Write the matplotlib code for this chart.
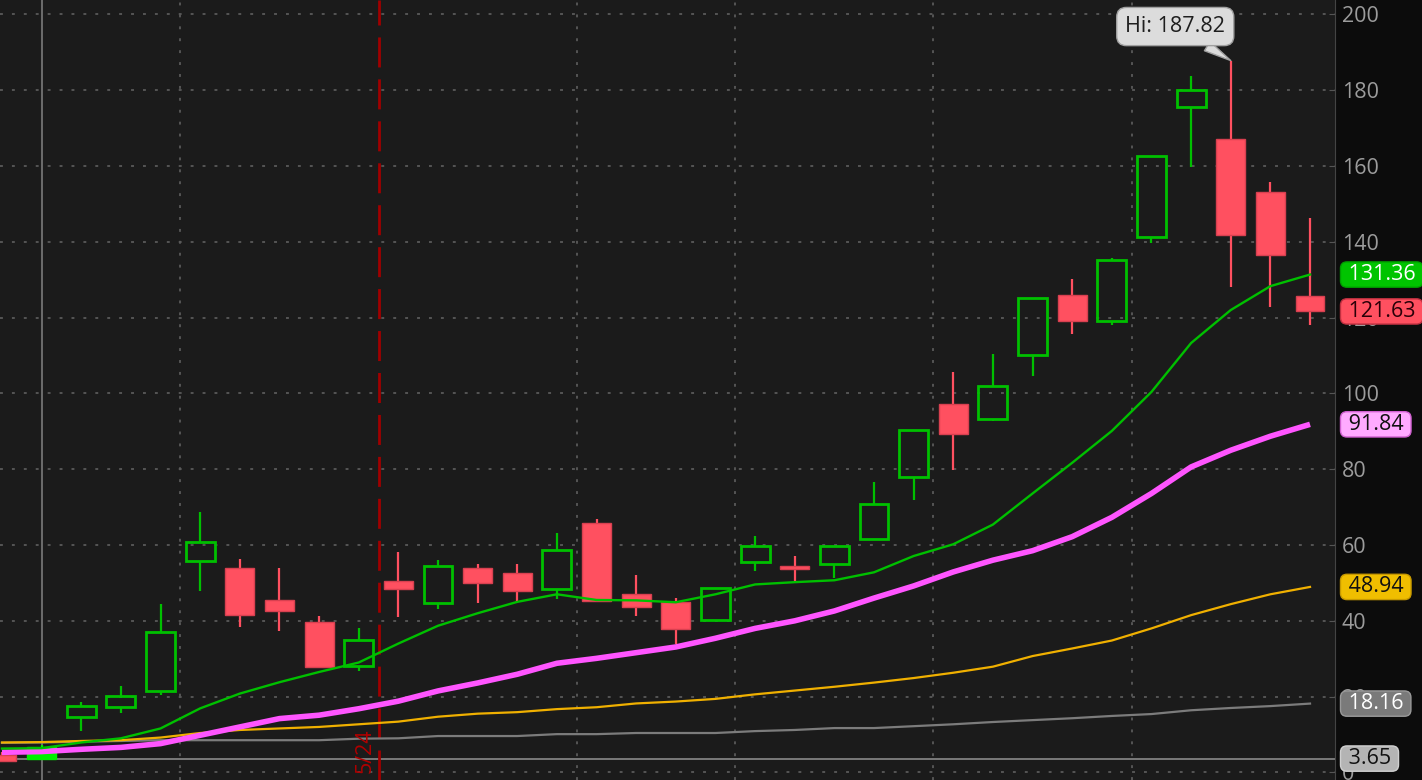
import matplotlib
matplotlib.use('Agg')
import matplotlib.pyplot as plt
import numpy as np

plt.rcParams['font.family'] = ['Open Sans', 'DejaVu Sans']

# daily candles (oldest first)
opens  = [4.6, 3.5, 14.6, 17.3, 21.5, 55.8, 54.0, 45.6, 39.8, 28.0,
          50.4, 44.7, 54.0, 52.5, 48.4, 65.7, 47.1, 45.0, 40.1, 55.4,
          54.5, 54.9, 61.6, 78.0, 97.3, 93.3, 110.2, 125.9, 119.2, 141.3,
          175.6, 167.0, 153.2, 125.8]
highs  = [5.5, 7.3, 18.7, 22.9, 44.5, 68.8, 56.2, 54.0, 41.4, 38.2,
          58.2, 56.0, 55.1, 55.1, 63.1, 66.8, 52.0, 46.1, 48.6, 62.4,
          57.2, 59.7, 76.7, 90.3, 105.7, 110.4, 125.1, 130.2, 135.8, 162.6,
          183.7, 187.82, 155.8, 146.3]
lows   = [2.8, 3.4, 10.9, 15.6, 20.4, 47.8, 38.3, 37.3, 27.8, 26.7,
          40.9, 43.2, 44.6, 45.0, 45.7, 45.2, 41.4, 34.0, 40.1, 53.1,
          50.5, 51.4, 61.6, 72.0, 79.9, 92.7, 104.7, 115.8, 118.0, 139.6,
          159.8, 128.1, 122.8, 118.0]
closes = [3.0, 6.8, 17.5, 20.1, 37.0, 60.8, 41.5, 42.6, 27.8, 34.9,
          48.3, 54.4, 49.9, 47.8, 58.7, 45.2, 43.6, 37.8, 48.6, 59.7,
          53.6, 59.7, 70.8, 90.3, 89.4, 101.9, 125.1, 119.0, 135.2, 162.6,
          180.0, 141.8, 136.5, 121.63]

# moving averages
ma_green = [6.3, 6.4, 7.9, 9.0, 11.6, 16.9, 20.8, 23.8, 26.5, 29.0,
            34.0, 38.7, 42.0, 45.0, 47.0, 45.5, 45.4, 44.9, 47.0, 49.6,
            50.2, 50.7, 52.8, 57.1, 60.2, 65.4, 73.6, 81.7, 90.1, 100.4,
            113.3, 122.0, 128.3, 131.36]
ma_pink = [5.3, 5.5, 6.1, 6.6, 7.6, 9.8, 12.0, 14.2, 15.1, 16.8,
           18.8, 21.5, 23.6, 25.9, 28.8, 30.1, 31.6, 33.1, 35.4, 38.0,
           40.0, 42.6, 46.0, 49.2, 52.9, 56.0, 58.5, 62.2, 67.3, 73.6,
           80.6, 85.0, 88.7, 91.84]
ma_gold = [7.9, 8.0, 8.3, 8.5, 9.2, 10.4, 11.2, 11.6, 12.0, 12.7,
           13.4, 14.7, 15.5, 15.9, 16.7, 17.2, 18.2, 18.7, 19.4, 20.6,
           21.6, 22.6, 23.7, 24.9, 26.3, 27.9, 30.7, 32.7, 34.8, 38.0,
           41.5, 44.4, 47.0, 48.94]
ma_gray = [7.8, 7.9, 8.1, 8.3, 8.5, 8.5, 8.5, 8.5, 8.5, 8.9,
           9.0, 9.6, 9.6, 9.6, 10.1, 10.1, 10.4, 10.4, 10.4, 10.9,
           11.2, 11.7, 11.7, 12.2, 12.7, 13.3, 13.8, 14.3, 14.9, 15.4,
           16.4, 17.0, 17.5, 18.16]

week_breaks = [4.5, 14.5, 18.5, 23.5, 28.5]
month_break = 9.5
month_label = '5/24'
cursor_idx = 1
last_price_line = 3.65
hi_value = 187.82
hi_idx = 31

tag_values = [131.36, 121.63, 91.84, 48.94, 18.16, 3.65]
tag_faces = ['#00c400', '#ff5060', '#ffaaff', '#f0be00', '#7a7a7a', '#b4b4b4']
tag_edges = ['#00a000', '#c03040', '#d060d0', '#c89a00', '#9a9a9a', '#d0d0d0']
tag_texts = ['#ffffff', '#2a0008', '#111111', '#111111', '#ffffff', '#111111']

BG = '#1b1b1b'
UP = '#00c000'
DOWN = '#ff5060'

fig = plt.figure(figsize=(14.22, 7.80), dpi=100, facecolor='#0c0c0c')
ax = fig.add_axes([0, 0, 1335 / 1422, 1])
ax.set_facecolor(BG)

n = len(opens)
x = np.arange(n)
o = np.array(opens); c = np.array(closes)
h = np.array(highs); l = np.array(lows)
top = np.maximum(o, c); bot = np.minimum(o, c)
up = c >= o
w = 0.73

# grid
for v in range(0, 201, 20):
    ax.axhline(v, color='#5a5a5a', lw=1.3, ls=(0, (1.6, 5)), zorder=0)
for xb in week_breaks:
    ax.axvline(xb, color='#5a5a5a', lw=1.3, ls=(0, (1.6, 5)), zorder=0)

ax.axvline(cursor_idx, color='#7a7a7a', lw=1.2, zorder=1)
ax.axhline(last_price_line, color='#8a8a8a', lw=1.2, zorder=1)
ax.axvline(month_break, color='#a00000', lw=2, ls=(0, (10.8, 4.3)), zorder=1)
ax.text(month_break - 0.33, 5.6, month_label, rotation=90, color='#b00000',
        fontsize=15.5, ha='center', va='center', zorder=6)

# candles
for i in range(n):
    if i == cursor_idx:
        ax.bar(x[i], top[i] - bot[i], bottom=bot[i], width=w, color='#00ee00',
               edgecolor='#00ee00', lw=1, zorder=3)
        ax.vlines(x[i], bot[i], h[i], color='#00ee00', lw=1.6, zorder=3)
    elif up[i]:
        ax.bar(x[i], top[i] - bot[i], bottom=bot[i], width=w, fill=False,
               edgecolor=UP, lw=2, zorder=3)
        ax.vlines(x[i], top[i], h[i], color=UP, lw=1.6, zorder=3)
        ax.vlines(x[i], l[i], bot[i], color=UP, lw=1.6, zorder=3)
    else:
        ax.vlines(x[i], l[i], h[i], color=DOWN, lw=1.6, zorder=3)
        ax.bar(x[i], top[i] - bot[i], bottom=bot[i], width=w, color=DOWN,
               edgecolor='#d84050', lw=1, zorder=3)

# moving averages
ax.plot(x, ma_gray, color='#7c7c7c', lw=1.6, zorder=4)
ax.plot(x, ma_gold, color='#f0b000', lw=1.6, zorder=4)
ax.plot(x, ma_pink, color='#ff55ff', lw=4, zorder=5, solid_capstyle='butt')
ax.plot(x, ma_green, color='#00c000', lw=1.7, zorder=5)

# high callout
ax.annotate(f'Hi: {hi_value:.2f}', xy=(hi_idx, hi_value), xytext=(29.6, 196.8),
            textcoords='data', ha='center', va='center', fontsize=15.5,
            color='#1e1e1e', zorder=8,
            bbox=dict(boxstyle='round,pad=0.4,rounding_size=0.45', fc='#dcdcdc',
                      ec='#a0a0a0', lw=1),
            arrowprops=dict(arrowstyle='wedge,tail_width=0.5,shrink_factor=0.5',
                            fc='#dcdcdc', ec='#a0a0a0', lw=1, shrinkA=0, shrinkB=0))

ax.set_xlim(-0.05, 33.63)
ax.set_ylim(-2.0, 203.8)

ax.yaxis.tick_right()
ax.set_yticks(range(0, 201, 20))
ax.tick_params(axis='y', direction='in', length=4, color='#555555', pad=5,
               labelsize=15.5, labelcolor='#9c9c9c')
ax.set_xticks([])
for s in ['top', 'left', 'bottom']:
    ax.spines[s].set_visible(False)
ax.spines['right'].set_color('#444444')

# price tags on the scale
for v, fc, ec, tc in zip(tag_values, tag_faces, tag_edges, tag_texts):
    ax.annotate(f' {v:.2f} ', xy=(1, v), xycoords=('axes fraction', 'data'),
                xytext=(5.5, 0), textcoords='offset points', ha='left', va='center',
                fontsize=15.5, color=tc, zorder=10, annotation_clip=False,
                bbox=dict(boxstyle='round,pad=0.1,rounding_size=0.3', fc=fc, ec=ec, lw=1))

plt.savefig('out.png', dpi=100, facecolor=fig.get_facecolor())
plt.close()
